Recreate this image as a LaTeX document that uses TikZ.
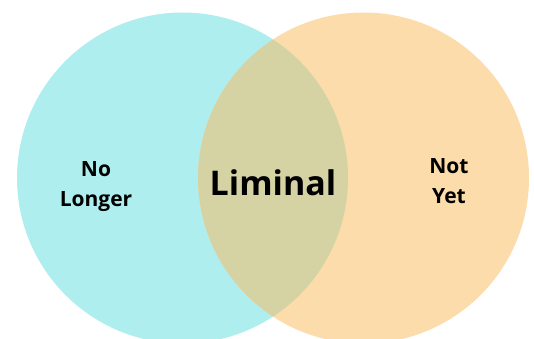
\documentclass[tikz,border=0pt]{standalone}
\usepackage{fontspec}
\setmainfont{Open Sans}
\usepackage{tikz}

\definecolor{pastcol}{HTML}{AEEEEF}
\definecolor{futurecol}{HTML}{FCDCAA}
\definecolor{liminalcol}{HTML}{D5D3A3}

\begin{document}
\begin{tikzpicture}[
  x=1pt, y=-1pt,
  label/.style={align=center, font=\fontsize{21}{30}\selectfont\bfseries, inner sep=0pt},
  big/.style={font=\fontsize{34}{40}\selectfont\bfseries, inner sep=0pt}
]
\useasboundingbox (0,0) rectangle (534,339);
% the two sets
\fill[pastcol] (182.5,178) circle (165.5);
\fill[futurecol] (363.5,178) circle (165.5);
\begin{scope}
  \clip (182.5,178) circle (165.5);
  \fill[liminalcol] (363.5,178) circle (165.5);
\end{scope}

\node[label] (past) at (96,187) {No\\Longer};
\node[big] (liminal) at (273,183) {Liminal};
\node[label] (future) at (449,181) {Not\\Yet};
\end{tikzpicture}
\end{document}
